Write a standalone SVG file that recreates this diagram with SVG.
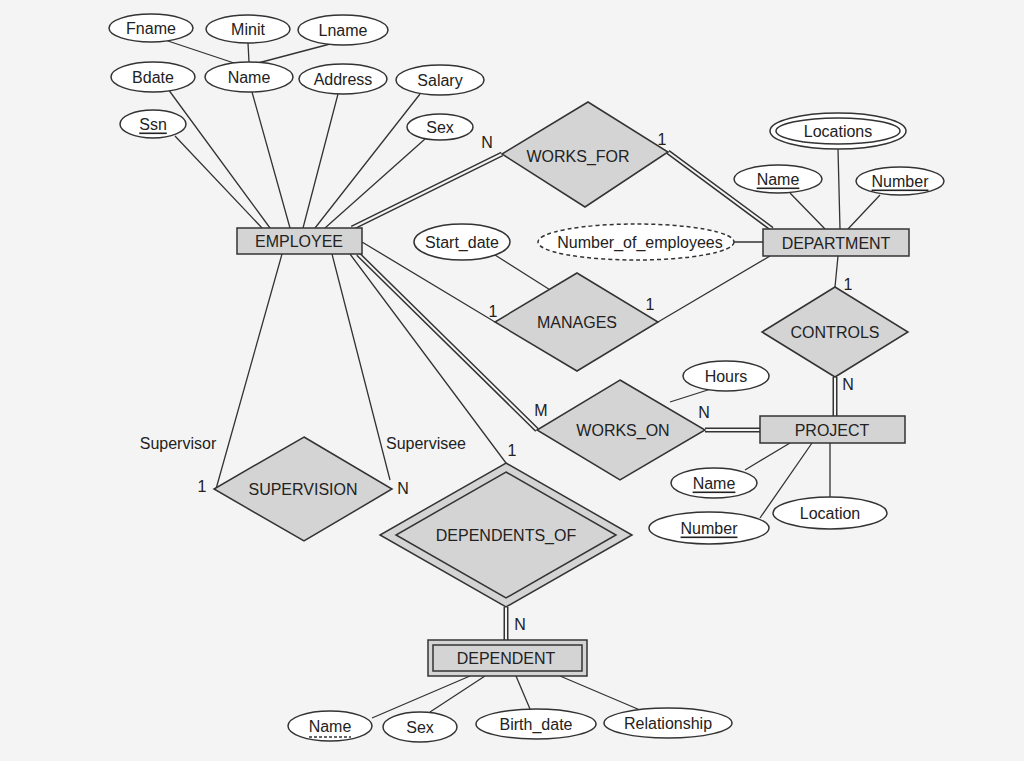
<svg xmlns="http://www.w3.org/2000/svg" width="1024" height="761" viewBox="0 0 1024 761">
<style>
text{font-family:"Liberation Sans",Arial,sans-serif;font-size:16px;fill:#222;text-anchor:middle;dominant-baseline:central}
.a{fill:#fff;stroke:#333;stroke-width:1.5}
.e{fill:#d4d4d4;stroke:#333;stroke-width:1.5}
.l{stroke:#333;stroke-width:1.3;fill:none}
.d1{stroke:#333;stroke-width:5;fill:none}
.d2{stroke:#f4f4f4;stroke-width:2;fill:none}
.lab{font-size:15px}
</style>
<rect width="1024" height="761" fill="#f4f4f4"/>
<g id="connectors">
<path class="l" d="M165,40L240,65M248,43L249,62M330,44L258,63M168,89L270,228M252,92L290,228M338,94L303,228M420,94L315,228M175,136L262,228M425,139L325,228M838,149L840,229M790,193L825,229M880,195L848,229M495,255L555,293M734,242L763,242M362,242L495,322M658,322L770,256M714,388L670,402M350,254L506,463M282,254L216,489M332,254L390,480M838,256L835,287M745,470L790,443M760,518L812,443M830,497L830,443M372,718L470,676M430,712L485,676M516,676L530,709M560,676L640,710"/>
<path class="d1" d="M352,228L502,154M668,152L772,229M358,254L537,430M705,430L760,430M506,607L506,640M835,377L835,416"/>
<path class="d2" d="M352,228L502,154M668,152L772,229M358,254L537,430M705,430L760,430M506,607L506,640M835,377L835,416"/>
</g>
<g id="labels" class="lab">
<text x="487" y="142">N</text><text x="662" y="139">1</text>
<text x="493" y="311">1</text><text x="650" y="304">1</text>
<text x="541" y="410">M</text><text x="704" y="412">N</text>
<text x="512" y="450">1</text><text x="520" y="624">N</text>
<text x="848" y="284">1</text><text x="848" y="384">N</text>
<text x="178" y="443">Supervisor</text><text x="426" y="443">Supervisee</text>
<text x="202" y="486">1</text><text x="403" y="488">N</text>
</g>
<g id="Fname"><ellipse class="a" cx="151" cy="28" rx="42" ry="14"/><text x="151" y="28">Fname</text></g>
<g id="Minit"><ellipse class="a" cx="248" cy="29" rx="42" ry="14"/><text x="248" y="29">Minit</text></g>
<g id="Lname"><ellipse class="a" cx="343" cy="30" rx="45" ry="15"/><text x="343" y="30">Lname</text></g>
<g id="Bdate"><ellipse class="a" cx="153" cy="77" rx="42" ry="15"/><text x="153" y="77">Bdate</text></g>
<g id="EName"><ellipse class="a" cx="249" cy="77" rx="44" ry="15"/><text x="249" y="77">Name</text></g>
<g id="Address"><ellipse class="a" cx="343" cy="79" rx="44" ry="15"/><text x="343" y="79">Address</text></g>
<g id="Salary"><ellipse class="a" cx="440" cy="80" rx="44" ry="15"/><text x="440" y="80">Salary</text></g>
<g id="Ssn"><ellipse class="a" cx="153" cy="124" rx="33" ry="14"/><text x="153" y="124" text-decoration="underline">Ssn</text></g>
<g id="ESex"><ellipse class="a" cx="440" cy="127" rx="33" ry="13"/><text x="440" y="127">Sex</text></g>
<g id="Locations"><ellipse class="a" cx="838" cy="131" rx="68" ry="18"/><ellipse class="a" cx="838" cy="131" rx="62" ry="13"/><text x="838" y="131">Locations</text></g>
<g id="DName"><ellipse class="a" cx="778" cy="179" rx="44" ry="14"/><text x="778" y="179" text-decoration="underline">Name</text></g>
<g id="DNumber"><ellipse class="a" cx="900" cy="181" rx="44" ry="14"/><text x="900" y="181" text-decoration="underline">Number</text></g>
<g id="Start_date"><ellipse class="a" cx="462" cy="242" rx="48" ry="18"/><text x="462" y="242">Start_date</text></g>
<g id="Number_of_employees"><ellipse class="a" cx="636" cy="242" rx="98" ry="18" stroke-dasharray="4,3"/><text x="640" y="242">Number_of_employees</text></g>
<g id="Hours"><ellipse class="a" cx="726" cy="376" rx="43" ry="15"/><text x="726" y="376">Hours</text></g>
<g id="PName"><ellipse class="a" cx="714" cy="483" rx="43" ry="15"/><text x="714" y="483" text-decoration="underline">Name</text></g>
<g id="PNumber"><ellipse class="a" cx="709" cy="528" rx="60" ry="16"/><text x="709" y="528" text-decoration="underline">Number</text></g>
<g id="Location"><ellipse class="a" cx="830" cy="513" rx="57" ry="16"/><text x="830" y="513">Location</text></g>
<g id="DepName"><ellipse class="a" cx="330" cy="726" rx="42" ry="15"/><text x="330" y="726">Name</text><line x1="309" y1="737" x2="351" y2="737" class="l" stroke-dasharray="3,2"/></g>
<g id="DepSex"><ellipse class="a" cx="420" cy="727" rx="37" ry="15"/><text x="420" y="727">Sex</text></g>
<g id="Birth_date"><ellipse class="a" cx="536" cy="724" rx="60" ry="15"/><text x="536" y="724">Birth_date</text></g>
<g id="Relationship"><ellipse class="a" cx="668" cy="723" rx="64" ry="15"/><text x="668" y="723">Relationship</text></g>
<g id="EMPLOYEE"><rect class="e" x="237" y="228" width="125" height="26"/><text x="299" y="241">EMPLOYEE</text></g>
<g id="DEPARTMENT"><rect class="e" x="763" y="229" width="146" height="27"/><text x="836" y="243">DEPARTMENT</text></g>
<g id="PROJECT"><rect class="e" x="760" y="416" width="145" height="27"/><text x="832" y="430">PROJECT</text></g>
<g id="DEPENDENT"><rect class="e" x="428" y="640" width="159" height="36"/><rect class="e" x="433" y="645" width="149" height="26"/><text x="506" y="658">DEPENDENT</text></g>
<g id="WORKS_FOR"><polygon class="e" points="588,102 668,152 585,207 502,154"/><text x="578" y="156">WORKS_FOR</text></g>
<g id="MANAGES"><polygon class="e" points="577,273 658,322 577,371 495,322"/><text x="577" y="322">MANAGES</text></g>
<g id="CONTROLS"><polygon class="e" points="835,287 908,332 835,377 762,332"/><text x="835" y="332">CONTROLS</text></g>
<g id="WORKS_ON"><polygon class="e" points="620,380 705,430 620,480 537,430"/><text x="623" y="430">WORKS_ON</text></g>
<g id="SUPERVISION"><polygon class="e" points="304,437 392,489 304,541 214,489"/><text x="303" y="489">SUPERVISION</text></g>
<g id="DEPENDENTS_OF"><polygon class="e" points="506,463 632,535 506,607 380,535"/><polygon class="e" points="506,472 616,535 506,598 396,535"/><text x="506" y="535">DEPENDENTS_OF</text></g>
</svg>
